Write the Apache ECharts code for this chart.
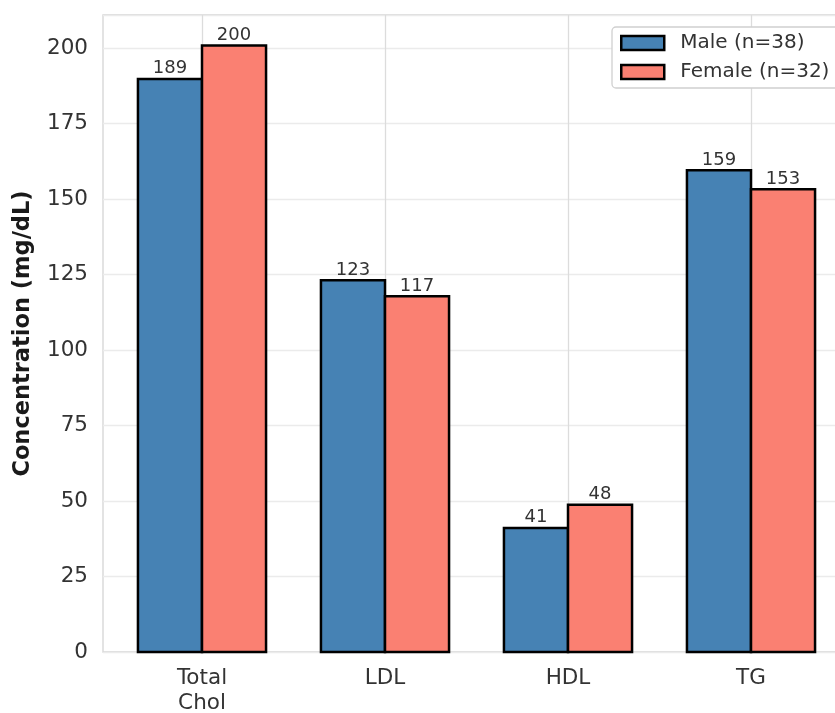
<!DOCTYPE html>
<html><head><meta charset="utf-8">
<script src="https://cdn.jsdelivr.net/npm/echarts@6/dist/echarts.min.js"></script>
<style>html,body{margin:0;padding:0;background:#fff}#c{width:835px;height:713px}</style>
</head><body><div id="c"></div>
<script>
const categories = ['Total\nChol', 'LDL', 'HDL', 'TG'];
const maleValues = [189.8, 123.1, 41.1, 159.6];
const femaleValues = [200.9, 117.8, 48.8, 153.3];
const seriesNames = ['Male (n=38)', 'Female (n=32)'];
const yTitle = 'Concentration (mg/dL)';

const FONT = 'DejaVu Sans';
const chart = echarts.init(document.getElementById('c'), null, {renderer: 'canvas'});
const YMAX = 211;
const BW = 2.5;
const BAR_FRAC = 0.35;

function makeRender(side, fill) {
  return function (params, api) {
    const idx = api.value(0);
    const val = api.value(1);
    const base = api.coord([idx, 0]);
    const top = api.coord([idx, val]);
    const band = api.size([1, 0])[0];
    const w = band * BAR_FRAC;
    const x0 = side < 0 ? base[0] - w : base[0];
    return {
      type: 'rect',
      shape: {x: x0, y: top[1], width: w, height: base[1] - top[1]},
      style: {fill: fill, stroke: '#000', lineWidth: BW},
      textContent: {
        style: {text: String(Math.trunc(val)), fontFamily: FONT, fontSize: 18, fill: '#333'}
      },
      textConfig: {position: 'top', distance: 0}
    };
  };
}

chart.setOption({
  animation: false,
  textStyle: {fontFamily: FONT},
  grid: [
    {left: 103, right: -13, top: 15, bottom: 61, outerBoundsMode: 'none', containLabel: false,
     show: true, borderColor: '#d4d4d4', borderWidth: 1.3, backgroundColor: 'transparent'},
    {left: 110.5, width: 732, top: 15, bottom: 61, outerBoundsMode: 'none', containLabel: false}
  ],
  xAxis: [
    {gridIndex: 0, type: 'value', show: false, min: 0, max: 1},
    {gridIndex: 1, type: 'category', data: categories,
     axisLine: {show: false}, axisTick: {show: false},
     axisLabel: {fontFamily: FONT, fontSize: 21.5, color: '#333', margin: 14, lineHeight: 25},
     splitLine: {show: false}}
  ],
  yAxis: [
    {gridIndex: 0, type: 'value', min: 0, max: YMAX, interval: 25,
     axisLine: {show: false}, axisTick: {show: false},
     axisLabel: {fontFamily: FONT, fontSize: 21.5, color: '#333', margin: 15, showMaxLabel: false},
     splitLine: {show: true, lineStyle: {color: '#ebebeb', width: 1.3}},
     name: yTitle, nameLocation: 'middle', nameGap: 68,
     nameTextStyle: {fontFamily: FONT, fontSize: 22.5, fontWeight: 'bold', color: '#1a1a1a'}},
    {gridIndex: 1, type: 'value', min: 0, max: YMAX, show: false, splitLine: {show: false}}
  ],
  legend: {
    orient: 'vertical', left: 612, top: 27,
    data: seriesNames, icon: 'rect',
    itemWidth: 43, itemHeight: 14, itemGap: 9,
    padding: [6, 30, 6, 8],
    backgroundColor: '#fff', borderColor: '#d0d0d0', borderWidth: 1.3, borderRadius: 4,
    itemStyle: {borderWidth: 2.5, borderColor: '#000'},
    textStyle: {fontFamily: FONT, fontSize: 20, color: '#333', lineHeight: 20, padding: [0, 0, 0, 11]}
  },
  series: [
    {type: 'line', xAxisIndex: 1, yAxisIndex: 1, data: [], z: 0, silent: true,
     markLine: {silent: true, z: 0, symbol: 'none', label: {show: false},
       lineStyle: {color: '#dcdcdc', width: 1.3, type: 'solid'},
       data: categories.map(c => ({xAxis: c}))}},
    {name: seriesNames[0], type: 'custom', xAxisIndex: 1, yAxisIndex: 1, z: 3, clip: false,
     data: maleValues.map((v, i) => [i, v]), encode: {x: 0, y: 1},
     itemStyle: {color: '#4682B4', borderColor: '#000', borderWidth: BW},
     renderItem: makeRender(-1, '#4682B4')},
    {name: seriesNames[1], type: 'custom', xAxisIndex: 1, yAxisIndex: 1, z: 3, clip: false,
     data: femaleValues.map((v, i) => [i, v]), encode: {x: 0, y: 1},
     itemStyle: {color: '#FA8072', borderColor: '#000', borderWidth: BW},
     renderItem: makeRender(1, '#FA8072')}
  ]
});
</script></body></html>
